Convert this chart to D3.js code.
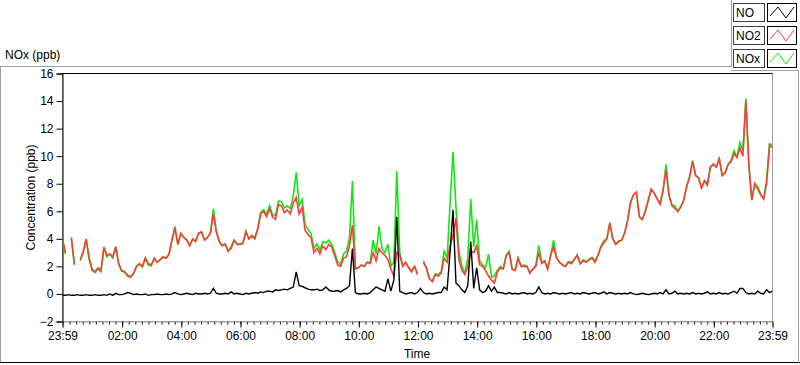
<!DOCTYPE html>
<html><head><meta charset="utf-8">
<script src="https://cdn.jsdelivr.net/npm/d3@7"></script>
<style>
html,body{margin:0;padding:0;background:#fff;}
svg{display:block;font-family:"Liberation Sans",Arial,sans-serif;}
</style></head>
<body><svg id="c" width="800" height="365"></svg>
<script>
// ---- data (6-minute samples from 23:59 to 23:59) ----
const seriesNames = ["NO", "NO2", "NOx"];
const xTickLabels = ["23:59","02:00","04:00","06:00","08:00","10:00","12:00","14:00","16:00","18:00","20:00","22:00","23:59"];
const yTickValues = [-2,0,2,4,6,8,10,12,14,16];
const stepMinutes = 6;

const no2 = [
4.0,3.0,null,4.1,2.2,null,2.5,3.1,4.0,2.6,
1.8,1.6,1.9,1.7,3.4,2.8,2.9,2.7,3.4,2.2,
1.7,1.6,1.3,1.2,1.5,2.0,2.2,2.0,2.6,2.2,
2.1,2.6,2.3,2.5,2.7,2.6,2.9,3.9,4.8,3.6,
4.4,4.1,3.9,3.5,4.0,3.8,4.4,4.5,3.9,4.1,
4.4,5.8,4.5,3.8,3.5,3.6,3.1,3.3,3.9,3.6,
3.6,3.7,4.5,4.0,4.2,4.0,4.7,5.8,6.0,5.6,
6.2,5.6,5.4,6.5,6.4,5.9,6.1,5.8,6.6,7.0,
5.8,6.3,4.6,4.3,4.1,3.0,3.3,2.9,3.5,3.2,
3.6,3.4,2.8,2.1,2.0,2.6,2.7,3.5,5.0,1.8,
1.9,2.1,2.0,2.3,2.2,3.0,2.4,3.3,3.0,2.8,
2.5,1.8,1.3,3.0,2.8,2.0,2.3,1.9,1.6,2.0,
1.4,null,2.3,1.9,1.1,0.9,1.4,1.3,1.5,2.6,
2.3,3.5,4.2,5.5,2.5,1.7,1.4,2.0,3.1,3.0,
3.5,2.1,2.0,1.7,1.3,1.0,0.8,1.6,1.9,1.8,
2.8,3.0,1.8,1.7,2.6,2.0,2.0,2.0,1.5,1.8,
2.0,3.0,2.2,2.4,1.8,2.8,3.4,2.6,2.3,2.1,
2.0,2.3,2.2,2.5,2.8,2.2,2.4,2.3,2.5,2.6,
2.3,2.8,3.4,3.7,4.0,5.1,4.0,3.6,3.8,3.9,
4.4,5.3,6.6,7.2,7.4,5.6,5.4,6.0,6.8,7.6,
7.3,6.9,6.5,7.5,9.0,7.2,6.4,6.2,6.0,6.3,
6.8,7.8,8.5,9.6,8.6,8.4,7.7,8.2,7.9,9.2,
9.4,9.2,9.8,8.6,8.8,9.4,9.6,10.2,9.9,10.6,
10.0,14.0,9.4,6.8,8.0,7.6,7.2,6.9,8.0,10.8,10.6
];

const no = [
-0.1,-0.1,-0.05,-0.1,-0.1,-0.05,-0.1,-0.1,-0.05,-0.1,
-0.1,-0.05,-0.1,-0.1,-0.05,-0.1,0.0,-0.1,0.05,-0.05,
-0.05,0.0,0.1,0.05,-0.05,0.0,-0.05,-0.05,0.0,-0.1,
-0.05,-0.05,0.0,-0.05,-0.05,0.0,-0.05,0.0,0.1,0.0,
-0.05,0.0,0.05,0.0,-0.05,0.05,0.0,0.0,0.05,0.0,
0.05,0.4,0.05,0.0,0.0,0.05,0.0,0.15,0.0,0.05,
0.0,-0.05,0.05,0.0,0.05,0.1,0.05,0.15,0.1,0.2,
0.2,0.15,0.3,0.25,0.3,0.35,0.3,0.4,0.5,1.6,
0.6,0.55,0.45,0.35,0.3,0.3,0.35,0.25,0.3,0.5,
0.3,0.2,0.2,0.25,0.15,0.3,0.4,0.6,3.3,0.1,
0.0,0.0,0.05,0.0,0.1,0.3,0.5,0.4,0.3,0.2,
1.1,0.2,1.0,5.6,0.2,0.1,0.0,0.05,0.1,0.0,
0.1,0.4,0.1,0.0,0.05,0.0,0.05,0.1,0.1,0.5,
0.3,3.0,6.1,0.8,0.6,0.3,0.1,0.6,3.8,0.4,
1.9,0.3,0.1,0.2,0.6,0.2,0.5,0.1,0.1,0.05,
0.0,0.1,0.0,0.05,0.0,0.05,0.1,0.0,0.05,0.0,
0.1,0.5,0.1,0.0,0.05,0.0,0.1,0.05,0.0,0.05,
0.0,0.05,0.1,0.0,0.05,0.0,0.1,0.05,0.0,0.05,
0.1,0.0,0.05,0.15,0.0,0.1,0.05,0.0,0.05,0.0,
0.05,0.0,0.1,0.0,-0.05,0.0,0.05,0.0,-0.05,0.0,
0.05,0.0,0.1,0.0,0.3,0.0,0.05,0.2,0.0,0.05,
0.0,0.05,0.0,0.1,0.0,0.05,0.0,0.05,0.15,0.0,
0.05,0.0,0.1,0.0,0.05,0.0,0.1,0.2,0.05,0.4,
0.4,0.1,0.0,0.05,0.0,0.2,0.05,0.0,0.3,0.1,0.2
];

const nox = [
3.9,2.9,null,4.0,2.1,null,2.4,3.0,3.95,2.5,
1.7,1.55,1.8,1.6,3.35,2.7,2.9,2.6,3.45,2.15,
1.65,1.6,1.4,1.25,1.45,2.0,2.15,1.95,2.6,2.1,
2.05,2.55,2.3,2.45,2.65,2.6,2.85,3.9,4.9,3.6,
4.35,4.1,3.95,3.5,3.95,3.85,4.4,4.5,3.95,4.1,
4.45,6.2,4.55,3.8,3.5,3.65,3.1,3.45,3.9,3.65,
3.6,3.65,4.55,4.0,4.25,4.1,4.75,5.95,6.1,5.8,
6.4,5.75,5.7,6.75,6.7,6.25,6.4,6.2,7.1,8.8,
6.4,6.85,5.05,4.65,4.4,3.3,3.65,3.15,3.8,3.7,
3.9,3.6,3.0,2.35,2.15,2.9,3.1,4.1,8.2,1.9,
1.9,2.1,2.05,2.3,2.3,3.9,2.9,4.9,3.3,3.0,
3.6,2.0,2.3,8.9,3.0,2.1,2.3,1.95,1.7,2.0,
1.5,null,2.4,1.9,1.15,0.9,1.45,1.4,1.6,3.1,
2.6,6.5,10.3,6.3,3.1,2.0,1.5,2.6,6.9,3.4,
5.4,2.4,2.1,1.9,2.9,1.2,1.3,1.7,2.0,1.85,
2.8,3.1,1.8,1.75,2.6,2.05,2.1,2.0,1.55,1.8,
2.1,3.5,2.3,2.4,1.85,2.8,3.9,2.65,2.3,2.15,
2.0,2.35,2.3,2.5,2.85,2.2,2.5,2.35,2.5,2.65,
2.4,2.8,3.45,3.85,4.0,5.2,4.05,3.6,3.85,3.9,
4.45,5.3,6.7,7.2,7.35,5.6,5.45,6.0,6.75,7.6,
7.35,6.9,6.6,7.5,9.4,7.2,6.45,6.4,6.0,6.35,
6.8,7.85,8.5,9.7,8.6,8.45,7.7,8.25,8.05,9.2,
9.45,9.2,9.9,8.6,8.85,9.4,9.7,10.4,9.95,11.0,
10.4,14.2,9.4,6.85,8.0,7.8,7.25,6.9,8.3,10.9,10.8
];

// ---- layout ----
const svg = d3.select("#c");
const plot = {left: 62.5, right: 772.5, top: 73.5, bottom: 321.5};
const t0 = new Date(2020, 0, 1, 23, 59);
const t1 = new Date(2020, 0, 2, 23, 59);
const x = d3.scaleTime().domain([t0, t1]).range([plot.left, plot.right]);
const y = d3.scaleLinear().domain([-2, 16]).range([plot.bottom, plot.top]);
const timeAt = i => d3.timeMinute.offset(t0, i * stepMinutes);

// outer panel frame
const gray = "#a0a0a0";
svg.append("line").attr("x1",0).attr("x2",731).attr("y1",66.5).attr("y2",66.5).attr("stroke",gray);
svg.append("line").attr("x1",0.5).attr("x2",0.5).attr("y1",66).attr("y2",363).attr("stroke",gray);
svg.append("line").attr("x1",0).attr("x2",800).attr("y1",362.5).attr("y2",362.5).attr("stroke","#000");
svg.append("line").attr("x1",798.5).attr("x2",798.5).attr("y1",70).attr("y2",363).attr("stroke",gray);
// legend panel edges
svg.append("line").attr("x1",731.5).attr("x2",731.5).attr("y1",0).attr("y2",67).attr("stroke",gray);
svg.append("line").attr("x1",731).attr("x2",799).attr("y1",70.5).attr("y2",70.5).attr("stroke",gray);

// plot frame
svg.append("rect").attr("x",plot.left).attr("y",plot.top).attr("width",plot.right-plot.left).attr("height",plot.bottom-plot.top)
  .attr("fill","#fff").attr("stroke",gray);
svg.append("line").attr("x1",plot.left).attr("x2",plot.right).attr("y1",plot.top).attr("y2",plot.top).attr("stroke","#000");

// y axis
const yAxis = d3.axisLeft(y).tickValues(yTickValues).tickSize(6).tickPadding(3).tickFormat(d3.format("d"));
const gy = svg.append("g").attr("transform",`translate(${plot.left},0)`).call(yAxis);
gy.select(".domain").attr("stroke","#000");
gy.selectAll(".tick line").attr("stroke","#000");
gy.selectAll("text").attr("font-size",12).attr("fill","#000").attr("font-family","Liberation Sans, Arial, sans-serif");

// x axis
const majorTimes = xTickLabels.map((s, k) => k === 0 ? t0 : (k === xTickLabels.length - 1 ? t1 : new Date(2020,0,2,+s.slice(0,2),+s.slice(3))));
const minorTimes = d3.range(0, 24*60, 800/60).map(m => new Date(2020,0,2,0,0,Math.round(m*60))).filter(d => d < t1);
const gxMinor = svg.append("g").attr("transform",`translate(0,${plot.bottom})`)
  .call(d3.axisBottom(x).tickValues(minorTimes).tickSize(3).tickFormat(""));
gxMinor.select(".domain").remove();
gxMinor.selectAll(".tick line").attr("stroke","#000");
const gx = svg.append("g").attr("transform",`translate(0,${plot.bottom})`)
  .call(d3.axisBottom(x).tickValues(majorTimes).tickSize(6).tickPadding(4).tickFormat((d,k) => xTickLabels[k]));
gx.select(".domain").attr("stroke",gray);
gx.selectAll(".tick line").attr("stroke","#000");
gx.selectAll("text").attr("font-size",12).attr("fill","#000").attr("font-family","Liberation Sans, Arial, sans-serif");

// titles
svg.append("text").attr("x",5).attr("y",58.5).attr("font-size",12).text("NOx (ppb)");
svg.append("text").attr("x",417).attr("y",357.5).attr("text-anchor","middle").attr("font-size",12).text("Time");
svg.append("text").attr("transform",`translate(35,${(plot.top+plot.bottom)/2}) rotate(-90)`)
  .attr("text-anchor","middle").attr("font-size",12).text("Concentration (ppb)");

// series
const colors = {NO: "#000000", NO2: "#ff3c3c", NOx: "#14e614"};
const widths = {NO: 1.4, NO2: 1.6, NOx: 1.6};
const mk = arr => arr.map((v,i) => ({t: timeAt(i), v}));
const line = d3.line().defined(d => d.v !== null).x(d => x(d.t)).y(d => y(d.v));
svg.append("clipPath").attr("id","clp").append("rect")
  .attr("x",plot.left).attr("y",plot.top).attr("width",plot.right-plot.left).attr("height",plot.bottom-plot.top);
const gl = svg.append("g").attr("clip-path","url(#clp)");
[["NOx", nox], ["NO2", no2], ["NO", no]].forEach(([name, arr]) => {
  gl.append("path").datum(mk(arr)).attr("d", line).attr("fill","none")
    .attr("stroke", colors[name]).attr("stroke-width", widths[name]).attr("stroke-linejoin","miter");
});

// legend
const legRows = [3, 26, 49];
seriesNames.forEach((name, k) => {
  const top = legRows[k];
  const g = svg.append("g");
  g.append("rect").attr("x",733.5).attr("y",top+0.5).attr("width",31).attr("height",18)
    .attr("fill","#fff").attr("stroke","#404040");
  g.append("text").attr("x",736).attr("y",top+14).attr("font-size",12).text(name);
  g.append("rect").attr("x",767.5).attr("y",top+0.5).attr("width",29).attr("height",18)
    .attr("fill","#fff").attr("stroke","#000");
  const L = 770, R = 794, T = top + 4, B = top + 15;
  g.append("polyline")
    .attr("points", `${L},${B-2} ${L+8},${T} ${L+16},${B} ${R},${T}`)
    .attr("fill","none").attr("stroke", colors[name]).attr("stroke-width",1);
});
</script>
</body></html>
